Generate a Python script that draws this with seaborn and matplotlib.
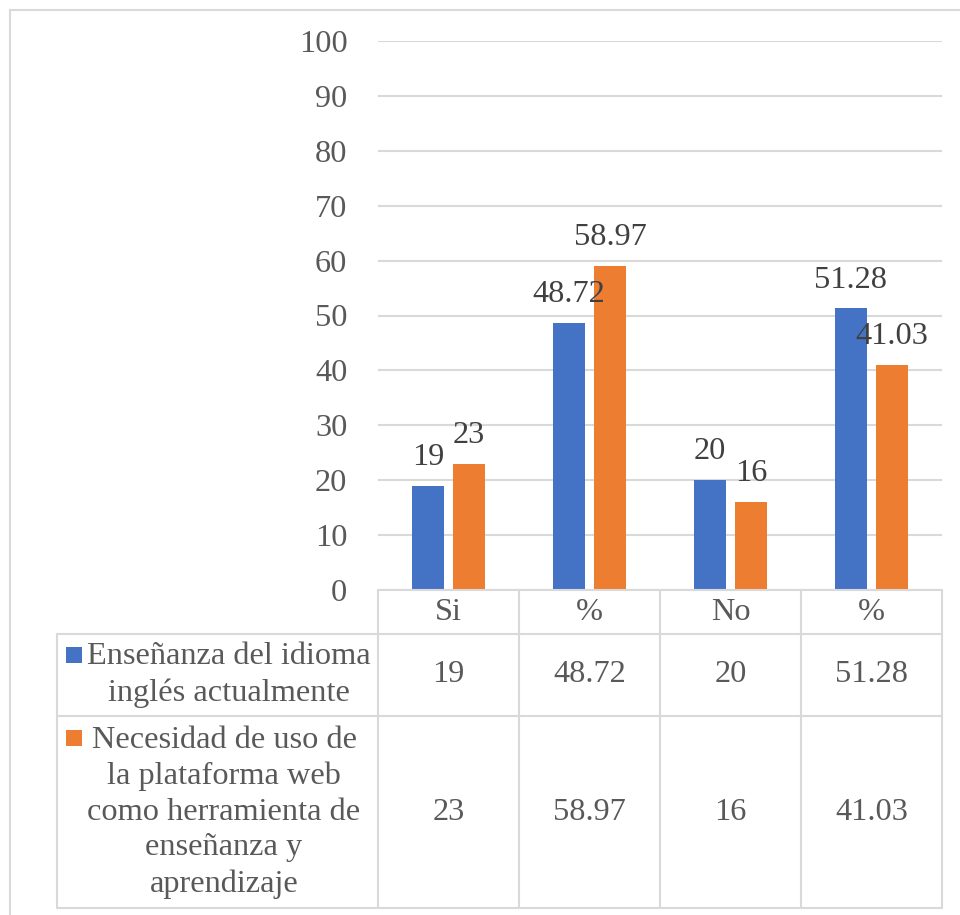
import matplotlib
matplotlib.use("Agg")
import matplotlib.pyplot as plt
from matplotlib.patches import Rectangle
from matplotlib.lines import Line2D
import seaborn as sns
import pandas as pd

# ---- data ----
categories = ["Si", "%", "No", "%"]
series_names = [
    "Enseñanza del idioma\ninglés actualmente",
    "Necesidad de uso de\nla plataforma web\ncomo herramienta de\nenseñanza y\naprendizaje",
]
ensenanza = [19, 48.72, 20, 51.28]
necesidad = [23, 58.97, 16, 41.03]
value_labels = [["19", "48.72", "20", "51.28"], ["23", "58.97", "16", "41.03"]]
yticks = [0, 10, 20, 30, 40, 50, 60, 70, 80, 90, 100]

colors = ["#4472C4", "#ED7D31"]
grid_c = "#D9D9D9"
text_c = "#595959"
label_c = "#404040"

sns.set_theme(style="white")
plt.rcParams["font.family"] = ["Liberation Serif", "DejaVu Serif"]
FS = 23.3

W, H = 960, 915
fig = plt.figure(figsize=(W / 100, H / 100), dpi=100)

def fx(px):
    return px / W

def fy(py):
    return 1 - py / H

# unique slot keys so the two "%" columns stay separate
keys = [f"{c}_{i}" for i, c in enumerate(categories)]
df = pd.DataFrame({
    "slot": keys * 2,
    "serie": [series_names[0]] * 4 + [series_names[1]] * 4,
    "valor": ensenanza + necesidad,
})

x0, x1 = 378, 942
y_top, y_zero = 41, 590
ax = fig.add_axes([fx(x0), fy(y_zero), fx(x1) - fx(x0), fy(y_top) - fy(y_zero)])
sns.barplot(data=df, x="slot", y="valor", hue="serie", order=keys,
            hue_order=series_names, palette=colors, width=0.582, gap=0.22,
            saturation=1, legend=False, ax=ax, edgecolor="none")
ax.set_xlim(-0.5, 3.5)
ax.set_ylim(0, 100)
ax.set_yticks(yticks)
ax.set_yticklabels([str(t) for t in yticks], fontsize=FS, color=text_c)
ax.tick_params(axis="y", length=0, pad=22)
ax.set_xticks([])
ax.set_xlabel("")
ax.set_ylabel("")
for s in ax.spines.values():
    s.set_visible(False)
ax.yaxis.grid(True, color=grid_c, linewidth=1.5)
ax.set_axisbelow(True)

# value labels above bars
for cont, labs in zip(ax.containers, value_labels):
    for bar, lab in zip(cont.patches, labs):
        ax.annotate(lab, (bar.get_x() + bar.get_width() / 2, bar.get_height()),
                    xytext=(0, 20.5), textcoords="offset points",
                    ha="center", va="center", fontsize=FS, color=label_c)

# ---- data table below the plot ----
tax = fig.add_axes([0, 0, 1, 1], facecolor="none")
tax.set_xlim(0, W)
tax.set_ylim(H, 0)
tax.axis("off")

col_w = (x1 - x0) / 4
col_edges = [x0 + i * col_w for i in range(5)]
row_edges = [590, 634, 716, 908]
t_left = 57
lw = 1.5

def hline(y, xa, xb):
    tax.add_line(Line2D([xa, xb], [y, y], color=grid_c, lw=lw))

def vline(x, ya, yb):
    tax.add_line(Line2D([x, x], [ya, yb], color=grid_c, lw=lw))

hline(row_edges[0], x0, x1)
for y in row_edges[1:]:
    hline(y, t_left, x1)
for x in col_edges:
    vline(x, row_edges[0], row_edges[3])
vline(t_left, row_edges[1], row_edges[3])

# header row
hy = (row_edges[0] + row_edges[1]) / 2
for i, c in enumerate(categories):
    tax.text(col_edges[i] + col_w / 2, hy, c, ha="center", va="center",
             fontsize=FS, color=text_c)

# series rows: legend key, wrapped name, values
name_cx = [229, 224]
line_step = 36
for r in range(2):
    ya, yb = row_edges[r + 1], row_edges[r + 2]
    cy = (ya + yb) / 2
    lines = series_names[r].split("\n")
    n = len(lines)
    for k, ln in enumerate(lines):
        ly = cy + (k - (n - 1) / 2) * line_step
        tax.text(name_cx[r], ly, ln, ha="center", va="center",
                 fontsize=FS, color=text_c)
    first_y = cy - (n - 1) / 2 * line_step
    tax.add_patch(Rectangle((66, first_y - 10), 16, 16, color=colors[r], lw=0))
    for i in range(4):
        tax.text(col_edges[i] + col_w / 2, cy, value_labels[r][i], ha="center",
                 va="center", fontsize=FS, color=text_c)

# chart frame edges
hline(10, 10, W)
vline(10, 10, H)

fig.savefig("out.png", dpi=100)
